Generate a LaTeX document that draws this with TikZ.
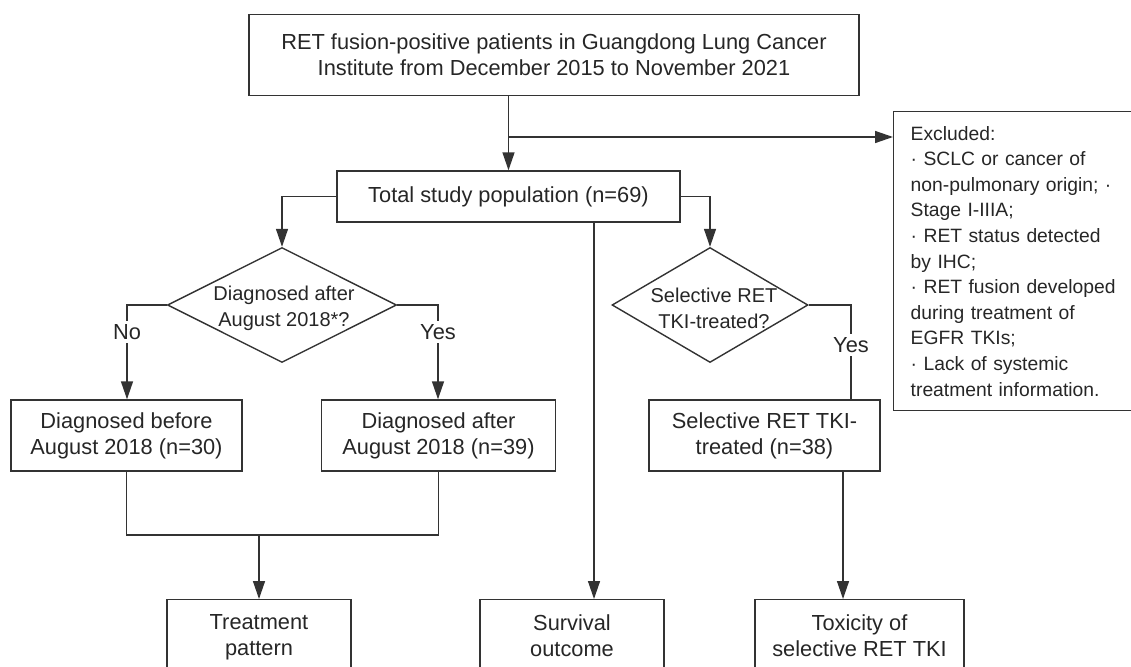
\documentclass[tikz,border=0pt]{standalone}
\usepackage{fontspec}
\setmainfont{Liberation Sans}
\usetikzlibrary{shapes.geometric,arrows.meta}

\begin{document}
\begin{tikzpicture}[x=1pt, y=-1pt, every node/.style = {align=center,
	text=black!85, font=\fontsize{21.8}{26}\selectfont},
	box/.style = {draw=black!80, line width=1.4pt, inner sep=0pt},
	decision/.style = {draw=black!80, line width=1.4pt, shape=diamond, inner sep=0pt},
	link/.style = {draw=black!80, line width=1.4pt},
	arr/.style = {link, -{Triangle[length=18pt, width=12pt]}}]

	\useasboundingbox (0,0) rectangle (1131,666);
	\clip (0,0) rectangle (1131,666);

	\node[box, minimum width=610pt, minimum height=81pt] (src) at (554,55)
		{RET fusion-positive patients in Guangdong Lung Cancer\\Institute from December 2015 to November 2021};
	\node[box, minimum width=343pt, minimum height=51pt] (total) at (508.5,196.5) {Total study population (n=69)};
	\node[box, anchor=north west, minimum height=299pt, text width=240pt, inner xsep=17pt, align=left,
		font=\fontsize{19.3}{25.6}\selectfont] (excl) at (893,111)
		{Excluded:\\· SCLC or cancer of\\non-pulmonary origin; ·\\Stage I-IIIA;\\· RET status detected\\by IHC;\\· RET fusion developed\\during treatment of\\EGFR TKIs;\\· Lack of systemic\\treatment information.};

	\node[decision, minimum width=229pt, minimum height=115pt] (d1) at (282,305) {};
	\node[font=\fontsize{20}{26}\selectfont] (d1txt) at (284,308) {Diagnosed after\\August 2018*?};
	\node[decision, minimum width=196pt, minimum height=115pt] (d2) at (710,305) {};
	\node[font=\fontsize{20}{26}\selectfont] (d2txt) at (714,308) {Selective RET\\TKI-treated?};

	\node (no) at (127,332) {No};
	\node (yes1) at (438,332) {Yes};
	\node (yes2) at (851,345) {Yes};

	\node[box, minimum width=231pt, minimum height=71pt] (before) at (126.5,435.5) {Diagnosed before\\August 2018 (n=30)};
	\node[box, minimum width=234pt, minimum height=71pt] (after) at (438.5,435.5) {Diagnosed after\\August 2018 (n=39)};
	\node[box, minimum width=231pt, minimum height=71pt] (sel) at (764.5,435.5) {Selective RET TKI-\\treated (n=38)};

	\node[box, anchor=north, minimum width=184pt, inner ysep=15pt] (treat) at (259,599) {Treatment\\pattern};
	\node[box, anchor=north, minimum width=184pt, inner ysep=15pt] (surv) at (572,599) {Survival\\outcome};
	\node[box, anchor=north, minimum width=209pt, inner ysep=15pt] (tox) at (859.5,599) {Toxicity of\\selective RET TKI};

	\coordinate (br) at (508.5,137);
	\coordinate (mg) at (259,535);
	\coordinate (sv) at (594,0);
	\coordinate (tx) at (843,0);

	\draw[arr] (src.south -| total.north) -- (total.north);
	\draw[arr] (br) -- (br -| excl.west);
	\draw[arr] (total.west) -| (d1.north);
	\draw[arr] (total.east) -| (d2.north);
	\draw[link] (d1.west) -| (no.north);
	\draw[arr] (no.south) -- (no.south |- before.north);
	\draw[link] (d1.east) -| (yes1.north);
	\draw[arr] (yes1.south) -- (yes1.south |- after.north);
	\draw[link] (d2.east) -| (yes2.north);
	\draw[link] (yes2.south) -- (yes2.south |- sel.north);
	\draw[link] (before.south) |- (mg) -| (after.south);
	\draw[arr] (mg) -- (treat.north);
	\draw[arr] (total.south -| sv) -- (surv.north -| sv);
	\draw[arr] (sel.south -| tx) -- (tox.north -| tx);
\end{tikzpicture}
\end{document}
